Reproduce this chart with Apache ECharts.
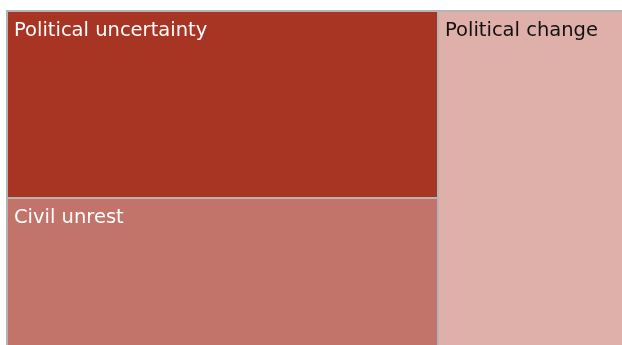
<!DOCTYPE html>
<html>
<head>
<meta charset="utf-8">
<script src="https://cdn.jsdelivr.net/npm/echarts@6/dist/echarts.min.js"></script>
<style>
  html, body { margin: 0; padding: 0; background: #ffffff; }
  #chart { width: 622px; height: 345px; }
</style>
</head>
<body>
<div id="chart"></div>
<script>
// risk categories and their relative sizes (areas)
const categories = ['Political uncertainty', 'Civil unrest', 'Political change']
const values = [80597, 69391, 66468]
const colors = ['#a83424', '#c2746a', '#dfafa9']
const labelColors = ['#ffffff', '#ffffff', '#111111']

const chart = echarts.init(document.getElementById('chart'))

const data = categories.map((name, i) => ({
  name: name,
  value: values[i],
  itemStyle: { color: colors[i] },
  label: { color: labelColors[i] }
}))

chart.setOption({
  animation: false,
  series: [
    {
      type: 'treemap',
      left: 6,
      top: 10,
      width: 624,
      height: 350,
      roam: false,
      nodeClick: false,
      breadcrumb: { show: false },
      sort: 'desc',
      label: {
        show: true,
        position: [1, 4],
        fontFamily: 'DejaVu Sans',
        fontSize: 19.5
      },
      levels: [
        { itemStyle: { borderWidth: 1, borderColor: '#b4b4b4', gapWidth: 0 } },
        { itemStyle: { borderWidth: 1, borderColor: '#b4b4b4', gapWidth: 0 } }
      ],
      data: data
    }
  ]
})

window.addEventListener('resize', () => chart.resize())
</script>
</body>
</html>
